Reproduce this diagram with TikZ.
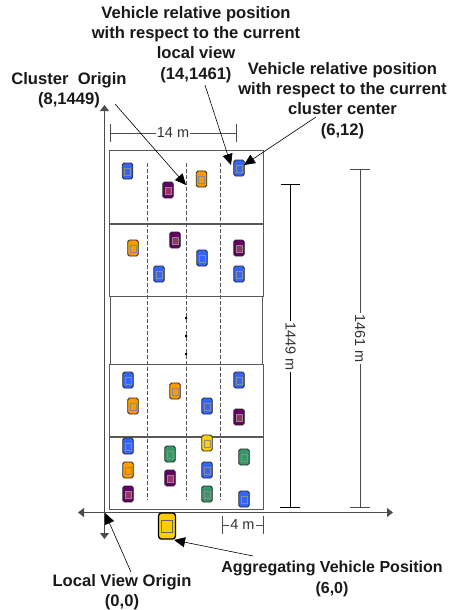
\documentclass[tikz,border=0pt]{standalone}
\usepackage{fontspec}
\setmainfont{Liberation Sans}
\usetikzlibrary{arrows.meta,calc}
\definecolor{cblue}{HTML}{3366FF}
\definecolor{corange}{HTML}{FF9900}
\definecolor{cpurple}{HTML}{660066}
\definecolor{cpurpleW}{HTML}{993366}
\definecolor{cgreen}{HTML}{339966}
\definecolor{cyellow}{HTML}{FFCC00}
\definecolor{laneline}{HTML}{555555}
\tikzset{
  x=1pt,y=-1pt,
  lbl/.style={font=\fontsize{16.6}{20.3}\selectfont\bfseries,align=center,inner sep=0pt,text=black!90},
  lblb/.style={font=\fontsize{16}{21}\selectfont\bfseries,align=center,inner sep=0pt,text=black!90},
  dim/.style={font=\fontsize{14.5}{16}\selectfont,inner sep=0pt,fill=white,inner xsep=1pt,text=black!80},
  seg/.style={draw=black!65,line width=1pt,fill=white,inner sep=0pt,outer sep=0pt},
  lane/.style={draw=laneline,line width=.7pt,dash pattern=on 3.5pt off 2.5pt},
  axis/.style={draw=black!70,line width=1pt,-{Triangle[length=6pt,width=9pt]}},
  dimline/.style={draw=black!70,line width=.8pt},
  pointer/.style={draw=black,line width=.6pt,-{Triangle[length=11pt,width=10pt]}},
  car/.style={draw=black!85,line width=.9pt,rounded corners=1.8pt,minimum width=10.5pt,minimum height=16pt,inner sep=0pt,outer sep=0pt},
}
\newcommand{\carat}[5]{% name, x, y, body, window
  \node[car,fill=#4] (#1) at (#2,#3) {};
  \draw[draw=black!45,line width=.3pt,fill=#5] ($(#1.center)+(-3,-2.5)$) rectangle ($(#1.center)+(3,4.5)$);
}
\begin{document}
\begin{tikzpicture}
\useasboundingbox (0,0) rectangle (454,610);
% road segments
\node[seg,minimum width=153.5pt,minimum height=73pt] (s1) at (186.5,186.5) {};
\node[seg,minimum width=153.5pt,minimum height=72pt] (s2) at (186.5,260) {};
\node[seg,minimum width=152pt,minimum height=68pt] (s3) at (186,330) {};
\node[seg,minimum width=153.5pt,minimum height=72pt] (s4) at (186.5,400) {};
\node[seg,minimum width=153.5pt,minimum height=72pt] (s5) at (186.5,473) {};
% lanes
\coordinate (l1t) at (147,163); \coordinate (l1b) at (147,500);
\coordinate (l2t) at (186,163); \coordinate (l2b) at (186,500);
\coordinate (l3t) at (220,163); \coordinate (l3b) at (220,500);
\draw[lane] (l1t) -- (l1b);
\draw[lane] (l2t) -- (l2b);
\draw[lane] (l3t) -- (l3b);
\fill[black] (185,317) rectangle (187,319) (185,335) rectangle (187,337) (185,353) rectangle (187,355);
% axes
\coordinate (o) at (104.5,512.5);
\coordinate (yt) at (104.5,105); \coordinate (yb) at (104.5,539);
\coordinate (xl) at (78,512.5); \coordinate (xr) at (393,512.5);
\draw[axis] (o) -- (yt);
\draw[axis] (o) -- (yb);
\draw[axis] (o) -- (xl);
\draw[axis] (o) -- (xr);
% cars
\carat{a1}{127.5}{171}{cblue}{cblue}
\carat{a2}{168}{190}{cpurple}{cpurpleW}
\carat{a3}{201.5}{179}{corange}{corange}
\carat{a4}{239}{168}{cblue}{cblue}
\carat{b1}{133}{248}{corange}{corange}
\carat{b2}{175}{240}{cpurple}{cpurpleW}
\carat{b3}{202}{258}{cblue}{cblue}
\carat{b4}{239}{248}{cpurple}{cpurpleW}
\carat{b5}{159}{274}{cblue}{cblue}
\carat{b6}{239}{274}{cblue}{cblue}
\carat{d1}{128}{380}{cblue}{cblue}
\carat{d2}{133}{406}{corange}{corange}
\carat{d3}{175}{391}{corange}{corange}
\carat{d4}{207}{406}{cblue}{cblue}
\carat{d5}{239}{380}{cblue}{cblue}
\carat{d6}{239}{417}{cpurple}{cpurpleW}
\carat{e1}{128}{446}{cblue}{cblue}
\carat{e2}{128}{470}{corange}{corange}
\carat{e3}{128}{494}{cpurple}{cpurpleW}
\carat{e4}{170}{454}{cgreen}{cgreen}
\carat{e5}{170}{478}{cpurple}{cpurpleW}
\carat{e6}{207}{443}{cyellow}{cyellow}
\carat{e7}{207}{470}{cblue}{cblue}
\carat{e8}{207}{494}{cgreen}{cgreen}
\carat{e9}{244}{457}{cgreen}{cgreen}
\carat{e10}{244}{499}{cblue}{cblue}
% aggregating vehicle
\node[draw=black,line width=1.3pt,rounded corners=3pt,fill=cyellow,minimum width=17pt,minimum height=26pt,inner sep=0pt,outer sep=0pt] (agg) at (167,526) {};
\draw[black!60,line width=.4pt,fill=cyellow] ($(agg.center)+(-5.5,-6)$) rectangle ($(agg.center)+(5.5,6)$);
% dimensions
\coordinate (d14a) at (110,133); \coordinate (d14b) at (236.5,133);
\draw[dimline] (d14a) -- (d14b);
\draw[dimline] (110,124) -- (110,142) (236.5,124) -- (236.5,142);
\node[dim] (m14) at (173,133) {14 m};
\coordinate (d4a) at (222,525); \coordinate (d4b) at (263,525);
\draw[dimline] (d4a) -- (d4b);
\draw[dimline] (222,516) -- (222,534) (263,516) -- (263,534);
\node[dim] (m4) at (242.5,525) {4 m};
\coordinate (h1a) at (290.5,184.5); \coordinate (h1b) at (290.5,507.5);
\draw[draw=black,line width=.8pt] (h1a) -- (h1b);
\draw[draw=black,line width=.8pt] (280.5,184.5) -- (300,184.5) (280,507.5) -- (300,507.5);
\node[dim,rotate=-90] (m1449) at (290.5,346.5) {1449 m};
\coordinate (h2a) at (360,169); \coordinate (h2b) at (360,507.5);
\draw[dimline] (h2a) -- (h2b);
\draw[dimline] (350,169) -- (369.5,169) (350,507.5) -- (369.5,507.5);
\node[dim,rotate=-90] (m1461) at (360,338.5) {1461 m};
% labels
\node[lbl] (tl1) at (196,44.5) {Vehicle relative position\\with respect to the current\\local view\\(14,1461)};
\node[lbl] (tl2) at (342.5,100.5) {Vehicle relative position\\with respect to the current\\cluster center\\(6,12)};
\node[lbl] (tl3) at (69,90.5) {Cluster\ \ Origin\\(8,1449)};
\node[lbl] (tl4) at (122,592.5) {Local View Origin\\(0,0)};
\node[lblb] (tl5) at (332,578.5) {Aggregating Vehicle Position\\(6,0)};
% pointers
\coordinate (p1s) at (115,104); \coordinate (p1e) at (186,185);
\coordinate (p2s) at (205,85); \coordinate (p2e) at (231,165);
\coordinate (p3s) at (316,117); \coordinate (p3e) at (244,165);
\coordinate (p4s) at (131,572); \coordinate (p4e) at (105,513);
\coordinate (p5s) at (253,556); \coordinate (p5e) at (174,540);
\draw[pointer] (p1s) -- (p1e);
\draw[pointer] (p2s) -- (p2e);
\draw[pointer] (p3s) -- (p3e);
\draw[pointer] (p4s) -- (p4e);
\draw[pointer] (p5s) -- (p5e);
\end{tikzpicture}
\end{document}
